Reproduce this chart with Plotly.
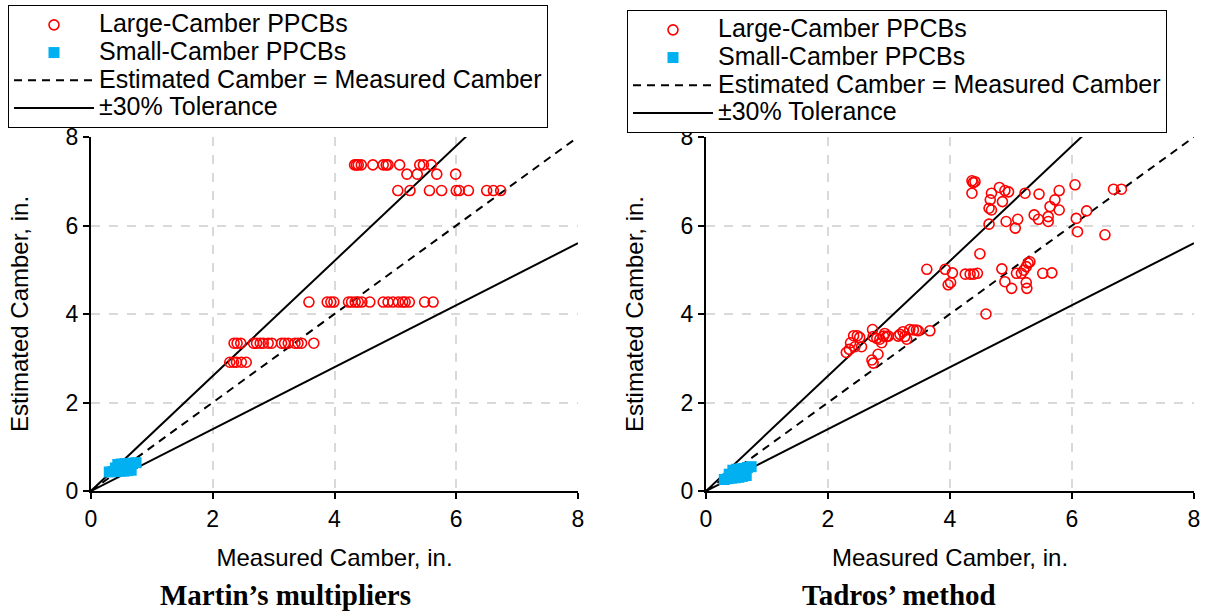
import plotly.graph_objects as go

# ---- Martin's multipliers: large-camber girders ----
martin_large_measured = [
    4.33, 4.36, 4.39, 4.44, 4.63, 4.80, 4.85, 4.88, 5.07, 5.40, 5.46, 5.59,
    5.19, 5.36, 5.68, 5.99,
    5.04, 5.24, 5.56, 5.76, 6.00, 6.05, 6.20, 6.50, 6.61, 6.73,
    3.58, 3.88, 3.94, 3.99, 4.23, 4.28, 4.34, 4.39, 4.45, 4.58, 4.80, 4.88,
    4.96, 5.05, 5.12, 5.16, 5.23, 5.48, 5.62,
    2.35, 2.40, 2.46, 2.67, 2.72, 2.78, 2.83, 2.91, 2.97, 3.13, 3.18, 3.24,
    3.35, 3.40, 3.46, 3.66,
    2.28, 2.34, 2.39, 2.47, 2.55,
]
martin_large_estimated = [
    7.37, 7.37, 7.37, 7.37, 7.37, 7.37, 7.37, 7.37, 7.37, 7.37, 7.37, 7.37,
    7.16, 7.16, 7.16, 7.16,
    6.79, 6.79, 6.79, 6.79, 6.79, 6.79, 6.79, 6.79, 6.79, 6.79,
    4.27, 4.27, 4.27, 4.27, 4.27, 4.27, 4.27, 4.27, 4.27, 4.27, 4.27, 4.27,
    4.27, 4.27, 4.27, 4.27, 4.27, 4.27, 4.27,
    3.34, 3.34, 3.34, 3.34, 3.34, 3.34, 3.34, 3.34, 3.34, 3.34, 3.34, 3.34,
    3.34, 3.34, 3.34, 3.34,
    2.91, 2.91, 2.91, 2.91, 2.91,
]

# ---- Martin's multipliers: small-camber girders ----
martin_small_measured = [0.30, 0.36, 0.42, 0.48, 0.54, 0.60, 0.66,
                         0.44, 0.50, 0.56, 0.62, 0.68, 0.74, 0.40, 0.58]
martin_small_estimated = [0.43, 0.44, 0.44, 0.45, 0.45, 0.46, 0.47,
                          0.60, 0.61, 0.62, 0.62, 0.63, 0.64, 0.52, 0.54]

# ---- Tadros' method: large-camber girders ----
tadros_large_measured = [
    2.30, 2.35, 2.37, 2.42, 2.48, 2.52, 2.55, 2.44, 2.73, 2.74, 2.80, 2.85,
    2.88, 2.91, 2.93, 2.96, 2.99, 2.72, 2.74, 2.82, 3.15, 3.18, 3.23, 3.26,
    3.29, 3.34, 3.40, 3.45, 3.48, 3.67,
    3.62, 3.92, 4.04, 3.97, 4.01, 4.25, 4.33, 4.39, 4.45, 4.49, 4.59, 4.85,
    4.90, 5.01, 5.09, 5.17, 5.21, 5.25, 5.28, 5.31, 5.25, 5.26, 5.52, 5.67,
    4.36, 4.38, 4.41, 4.36, 4.68, 4.66, 4.64, 4.68, 4.81, 4.86, 4.90, 4.96,
    5.23, 4.64, 4.92, 5.07, 5.11, 5.38, 5.45, 5.46, 5.61, 5.61, 5.64, 5.72,
    5.79, 5.79, 6.05, 6.07, 6.09, 6.24, 6.54, 6.68, 6.81,
]
tadros_large_estimated = [
    3.13, 3.20, 3.35, 3.51, 3.51, 3.47, 3.26, 3.26, 3.65, 3.49, 3.45, 3.43,
    3.35, 3.50, 3.56, 3.49, 3.50, 2.96, 2.89, 3.09, 3.50, 3.54, 3.60, 3.49,
    3.43, 3.65, 3.64, 3.64, 3.62, 3.62,
    5.01, 5.01, 4.93, 4.66, 4.71, 4.90, 4.90, 4.90, 4.92, 5.36, 4.00, 5.02,
    4.73, 4.58, 4.92, 4.92, 4.99, 5.07, 5.15, 5.18, 4.71, 4.58, 4.92, 4.93,
    7.01, 6.97, 6.99, 6.73, 6.73, 6.58, 6.39, 6.35, 6.86, 6.54, 6.79, 6.76,
    6.73, 6.03, 6.09, 5.94, 6.14, 6.24, 6.14, 6.71, 6.09, 6.20, 6.43, 6.58,
    6.79, 6.35, 6.92, 6.16, 5.86, 6.33, 5.79, 6.82, 6.82,
]

# ---- Tadros' method: small-camber girders ----
tadros_small_measured = [0.30, 0.36, 0.42, 0.48, 0.54, 0.60, 0.66,
                         0.44, 0.50, 0.56, 0.62, 0.68, 0.74, 0.38, 0.58]
tadros_small_estimated = [0.26, 0.28, 0.29, 0.30, 0.31, 0.33, 0.35,
                          0.47, 0.49, 0.50, 0.51, 0.53, 0.55, 0.38, 0.42]

# ---- Reference lines and labels ----
axis_max = 8
tolerance = 0.30
panel_titles = ["Martin\u2019s multipliers", "Tadros\u2019 method"]
legend_names = ["Large-Camber PPCBs", "Small-Camber PPCBs",
                "Estimated Camber = Measured Camber", "\u00b130% Tolerance"]
x_title = "Measured Camber, in."
y_title = "Estimated Camber, in."

RED = "#FF0000"
BLUE = "#00B0F0"
SANS = "Liberation Sans, Arial, sans-serif"
SERIF = "Liberation Serif, Times New Roman, serif"


def legend_label(text):
    # larger glyphs than the legend's base font, keeping rows compact
    return '<span style="font-size:25px">' + text + "</span>"


fig = go.Figure()

line_x = [0, axis_max, None, 0, axis_max]
line_y = [0, (1 + tolerance) * axis_max, None, 0, (1 - tolerance) * axis_max]

panels = [
    ("x", "y", "legend", martin_large_measured, martin_large_estimated,
     martin_small_measured, martin_small_estimated),
    ("x2", "y2", "legend2", tadros_large_measured, tadros_large_estimated,
     tadros_small_measured, tadros_small_estimated),
]

for xa, ya, lg, lx, ly, sx, sy in panels:
    fig.add_trace(go.Scatter(
        x=[0, axis_max], y=[0, axis_max], mode="lines",
        line=dict(color="black", width=2, dash="8px,6px"),
        name=legend_label(legend_names[2]),
        xaxis=xa, yaxis=ya, legend=lg, legendrank=3))
    fig.add_trace(go.Scatter(
        x=line_x, y=line_y, mode="lines",
        line=dict(color="black", width=2),
        name=legend_label(legend_names[3]),
        xaxis=xa, yaxis=ya, legend=lg, legendrank=4))
    fig.add_trace(go.Scatter(
        x=sx, y=sy, mode="markers",
        marker=dict(symbol="square", size=11, color=BLUE,
                    line=dict(width=0)),
        name=legend_label(legend_names[1]),
        xaxis=xa, yaxis=ya, legend=lg, legendrank=2))
    fig.add_trace(go.Scatter(
        x=lx, y=ly, mode="markers",
        marker=dict(symbol="circle-open", size=10, color=RED,
                    line=dict(width=1.6, color=RED)),
        name=legend_label(legend_names[0]),
        xaxis=xa, yaxis=ya, legend=lg, legendrank=1))

axis_common = dict(
    range=[0, axis_max], dtick=2, tick0=0,
    showline=True, linecolor="black", linewidth=2,
    ticks="outside", ticklen=6, tickwidth=2, tickcolor="black",
    showgrid=True, gridcolor="#D9D9D9", gridwidth=1.5, griddash="dash",
    zeroline=False, tickfont=dict(family=SANS, size=23, color="black"),
    automargin=False, fixedrange=True,
)

W, H = 1210, 616
y_dom = [(H - 491) / H, (H - 137) / H]
title_font = dict(family=SANS, size=24, color="black")

legend_common = dict(
    xanchor="left", yanchor="top",
    bordercolor="black", borderwidth=1, bgcolor="white",
    font=dict(family=SANS, size=19, color="black"),
    tracegroupgap=0, itemwidth=80,
)

fig.update_layout(
    width=W, height=H, autosize=False,
    margin=dict(l=0, r=0, t=0, b=0),
    paper_bgcolor="white", plot_bgcolor="white",
    font=dict(family=SANS, size=20, color="black"),
    xaxis=dict(axis_common, domain=[91 / W, 578 / W],
               title=dict(text=x_title, standoff=19, font=title_font)),
    yaxis=dict(axis_common, domain=y_dom, anchor="x",
               title=dict(text=y_title, standoff=30, font=title_font)),
    xaxis2=dict(axis_common, domain=[706 / W, 1194 / W], anchor="y2",
                title=dict(text=x_title, standoff=19, font=title_font)),
    yaxis2=dict(axis_common, domain=y_dom, anchor="x2",
                title=dict(text=y_title, standoff=30, font=title_font)),
    legend=dict(legend_common, x=8 / W, y=1 - 5 / H),
    legend2=dict(legend_common, x=627 / W, y=1 - 10 / H),
    annotations=[
        dict(text="<b>" + panel_titles[0] + "</b>", x=285 / W, y=3 / H,
             xref="paper", yref="paper", showarrow=False,
             xanchor="center", yanchor="bottom",
             font=dict(family=SERIF, size=29, color="black")),
        dict(text="<b>" + panel_titles[1] + "</b>", x=899 / W, y=3 / H,
             xref="paper", yref="paper", showarrow=False,
             xanchor="center", yanchor="bottom",
             font=dict(family=SERIF, size=29, color="black")),
    ],
)

fig.write_html("out.html")
